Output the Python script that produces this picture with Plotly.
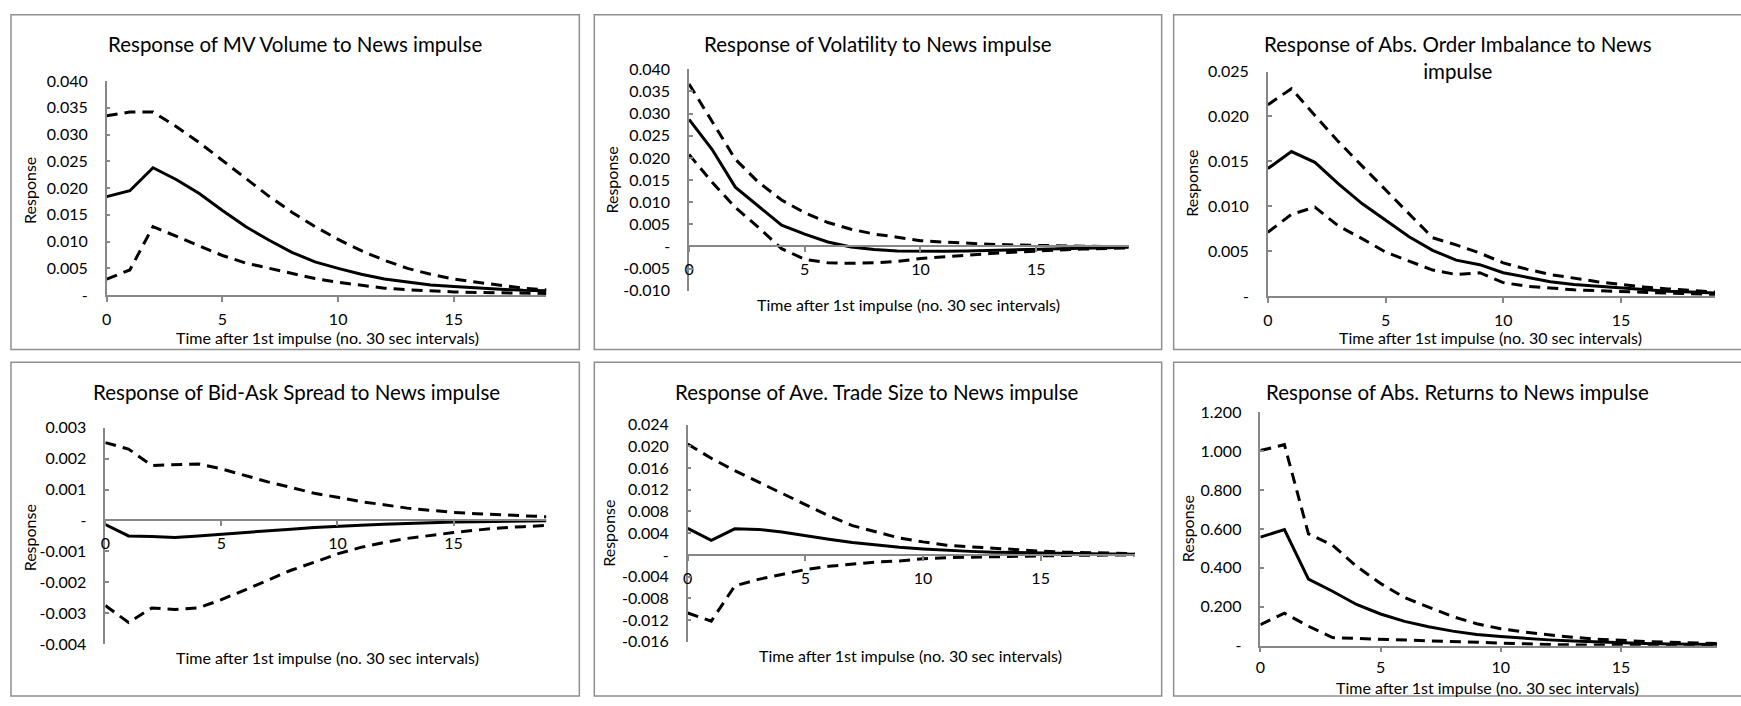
import plotly.graph_objects as go

# ---------------- data ----------------
periods = list(range(20))
x_tick_vals = [0, 5, 10, 15]
x_tick_text = ["0", "5", "10", "15"]

titles = [
    "Response of MV Volume to News impulse",
    "Response of Volatility to News impulse",
    "Response of Abs. Order Imbalance to News<br>impulse",
    "Response of Bid-Ask Spread to News impulse",
    "Response of Ave. Trade Size to News impulse",
    "Response of Abs. Returns to News impulse",
]
x_title = "Time after 1st impulse (no. 30 sec intervals)"
y_title = "Response"

# MV Volume
volume_mid = [0.0184, 0.0195, 0.0238, 0.0216, 0.0190, 0.0158, 0.0128, 0.0103, 0.0080, 0.0062,
              0.0050, 0.0039, 0.0030, 0.0024, 0.0019, 0.0016, 0.0013, 0.0011, 0.0009, 0.0008]
volume_up = [0.0335, 0.0342, 0.0342, 0.0315, 0.0285, 0.0252, 0.0219, 0.0185, 0.0155, 0.0128,
             0.0104, 0.0083, 0.0065, 0.0050, 0.0039, 0.0030, 0.0024, 0.0018, 0.0013, 0.0010]
volume_lo = [0.0030, 0.0047, 0.0128, 0.0110, 0.0092, 0.0074, 0.0060, 0.0050, 0.0040, 0.0031,
             0.0024, 0.0018, 0.0013, 0.0010, 0.00075, 0.0006, 0.0005, 0.0004, 0.00035, 0.0003]

# Volatility
volat_mid = [0.0287, 0.0219, 0.0134, 0.0090, 0.0048, 0.0028, 0.0010, -0.0001, -0.0007, -0.0010,
             -0.0011, -0.0011, -0.0010, -0.0009, -0.0008, -0.0006, -0.0005, -0.00035, -0.00025, -0.0002]
volat_up = [0.0367, 0.0281, 0.0197, 0.0145, 0.0105, 0.0076, 0.0054, 0.0039, 0.0028, 0.0021,
            0.0013, 0.0010, 0.0007, 0.0005, 0.00035, 0.0002, 0.0001, 0.00005, 0.0, 0.0]
volat_lo = [0.0208, 0.0145, 0.0088, 0.0043, -0.0005, -0.0029, -0.0037, -0.0038, -0.0037, -0.0034,
            -0.0027, -0.0023, -0.0020, -0.0016, -0.0013, -0.0010, -0.0008, -0.0006, -0.0004, -0.0003]

# Abs. Order Imbalance
oimb_mid = [0.0142, 0.0161, 0.0149, 0.0125, 0.0103, 0.0084, 0.0066, 0.0051, 0.0040, 0.0035,
            0.0026, 0.0021, 0.0016, 0.0013, 0.0011, 0.0009, 0.0007, 0.00055, 0.00045, 0.00035]
oimb_up = [0.0213, 0.0231, 0.0201, 0.0172, 0.0145, 0.0118, 0.0091, 0.0065, 0.0057, 0.0048,
           0.0037, 0.0030, 0.0024, 0.0020, 0.0016, 0.0013, 0.0010, 0.0008, 0.0006, 0.00045]
oimb_lo = [0.0071, 0.0091, 0.0099, 0.0078, 0.0064, 0.0049, 0.0039, 0.0029, 0.0024, 0.0026,
           0.0015, 0.0011, 0.0009, 0.0007, 0.0006, 0.0005, 0.0004, 0.0003, 0.00025, 0.0002]

# Bid-Ask Spread
spread_mid = [-0.00013, -0.00050, -0.00052, -0.00055, -0.00050, -0.00044, -0.00038, -0.00033, -0.00028, -0.00023,
              -0.00018, -0.00015, -0.00012, -0.00009, -0.00007, -0.00005, -0.00004, -0.00003, -0.00002, -0.00001]
spread_up = [0.00252, 0.00231, 0.00178, 0.00181, 0.00183, 0.00167, 0.00146, 0.00125, 0.00107, 0.00088,
             0.00075, 0.00061, 0.00051, 0.00040, 0.00033, 0.00026, 0.00022, 0.00018, 0.00015, 0.00012]
spread_lo = [-0.00275, -0.00330, -0.00283, -0.00288, -0.00283, -0.00256, -0.00225, -0.00193, -0.00161, -0.00135,
             -0.00108, -0.00087, -0.00071, -0.00058, -0.00048, -0.00039, -0.00031, -0.00024, -0.00020, -0.00016]

# Ave. Trade Size
tsize_mid = [0.0049, 0.0027, 0.0048, 0.0047, 0.0042, 0.0035, 0.0029, 0.0023, 0.0018, 0.0014,
             0.0011, 0.00085, 0.00065, 0.0005, 0.0004, 0.0003, 0.00025, 0.0002, 0.00015, 0.0001]
tsize_up = [0.0204, 0.0178, 0.0155, 0.0134, 0.0113, 0.0093, 0.0072, 0.0054, 0.0042, 0.0031,
            0.0024, 0.0018, 0.0015, 0.0012, 0.0009, 0.0007, 0.0005, 0.0004, 0.0003, 0.00025]
tsize_lo = [-0.0107, -0.0122, -0.0057, -0.0045, -0.0036, -0.0027, -0.0021, -0.0017, -0.0013, -0.0011,
            -0.0007, -0.0005, -0.0004, -0.0003, -0.0002, -0.00015, -0.0001, -0.00005, 0.0, 0.0]

# Abs. Returns
ret_mid = [0.558, 0.597, 0.342, 0.280, 0.212, 0.163, 0.125, 0.097, 0.075, 0.058,
           0.047, 0.037, 0.030, 0.024, 0.019, 0.015, 0.012, 0.009, 0.007, 0.006]
ret_up = [1.003, 1.033, 0.575, 0.517, 0.408, 0.320, 0.247, 0.197, 0.150, 0.113,
          0.087, 0.070, 0.055, 0.043, 0.034, 0.027, 0.022, 0.018, 0.014, 0.011]
ret_lo = [0.108, 0.167, 0.100, 0.042, 0.037, 0.033, 0.028, 0.025, 0.020, 0.016,
          0.012, 0.009, 0.006, 0.004, 0.003, 0.002, 0.001, 0.001, 0.001, 0.001]

# y-axis ticks
y1_vals = [0, 0.005, 0.010, 0.015, 0.020, 0.025, 0.030, 0.035, 0.040]
y1_text = ["-", "0.005", "0.010", "0.015", "0.020", "0.025", "0.030", "0.035", "0.040"]
y2_vals = [-0.010, -0.005, 0, 0.005, 0.010, 0.015, 0.020, 0.025, 0.030, 0.035, 0.040]
y2_text = ["-0.010", "-0.005", "-", "0.005", "0.010", "0.015", "0.020", "0.025", "0.030", "0.035", "0.040"]
y3_vals = [0, 0.005, 0.010, 0.015, 0.020, 0.025]
y3_text = ["-", "0.005", "0.010", "0.015", "0.020", "0.025"]
y4_vals = [-0.004, -0.003, -0.002, -0.001, 0, 0.001, 0.002, 0.003]
y4_text = ["-0.004", "-0.003", "-0.002", "-0.001", "-", "0.001", "0.002", "0.003"]
y5_vals = [-0.016, -0.012, -0.008, -0.004, 0, 0.004, 0.008, 0.012, 0.016, 0.020, 0.024]
y5_text = ["-0.016", "-0.012", "-0.008", "-0.004", "-", "0.004", "0.008", "0.012", "0.016", "0.020", "0.024"]
y6_vals = [0, 0.2, 0.4, 0.6, 0.8, 1.0, 1.2]
y6_text = ["-", "0.200", "0.400", "0.600", "0.800", "1.000", "1.200"]

series = [
    (volume_mid, volume_up, volume_lo),
    (volat_mid, volat_up, volat_lo),
    (oimb_mid, oimb_up, oimb_lo),
    (spread_mid, spread_up, spread_lo),
    (tsize_mid, tsize_up, tsize_lo),
    (ret_mid, ret_up, ret_lo),
]
y_ticks = [(y1_vals, y1_text), (y2_vals, y2_text), (y3_vals, y3_text),
           (y4_vals, y4_text), (y5_vals, y5_text), (y6_vals, y6_text)]
y_ranges = [(0, 0.040), (-0.010, 0.040), (0, 0.025), (-0.004, 0.003), (-0.016, 0.024), (0, 1.2)]

# ---------------- layout (pixel geometry) ----------------
W, H = 1741, 706
FONT = "Lato, 'Open Sans', sans-serif"
GRAY = "#878787"

# plot areas: x0, x1, ytop, ybottom (px)
plot_px = [
    (102, 543, 73, 293),
    (686, 1127, 61, 288.5),
    (1266.5, 1715, 63.3, 294),
    (100.6, 543, 429.3, 651.7),
    (684.7, 1133, 426, 649.3),
    (1259, 1717, 413.3, 653.3),
]
title_px = [(291, 35), (876, 35), (1457, 49), (292, 393), (875, 393), (1457, 393)]
xtitle_px = [(323, 337), (906, 303), (1490, 337), (323, 665), (908, 663), (1487, 696)]
ytitle_px = [(24, 185), (608, 175), (1190, 178), (24, 542), (605, 538), (1186, 533)]
x_label_standoff = [4, 4, 4, 4, 4, 1]
borders_px = [
    (6, 576, 5, 349), (591, 1160, 5, 349), (1172, 1746, 5, 349),
    (6, 576, 362, 705), (591, 1160, 362, 705), (1172, 1746, 362, 705),
]


def fx(p):
    return p / W


def fy(p):
    return 1 - p / H


fig = go.Figure()
layout = dict(
    width=W, height=H, margin=dict(l=0, r=0, t=0, b=0),
    paper_bgcolor="white", plot_bgcolor="white", showlegend=False,
    font=dict(family=FONT, color="black"),
)
annotations = []
shapes = []
TICK_SIZE = 16
TITLE_SIZE = 20.5

for k in range(6):
    n = "" if k == 0 else str(k + 1)
    xa, ya = "x" + n, "y" + n
    mid, up, lo = series[k]
    for vals, dash in ((up, "11px,7px"), (lo, "11px,7px"), (mid, "solid")):
        fig.add_trace(go.Scatter(
            x=periods, y=vals, mode="lines", xaxis=xa, yaxis=ya,
            line=dict(color="black", width=3, dash=dash), hoverinfo="skip",
        ))
    x0, x1, yt, yb = plot_px[k]
    ymin, ymax = y_ranges[k]
    ydom = [fy(yb), fy(yt)]
    xax = dict(
        domain=[fx(x0), fx(x1)], range=[0, 19], tickvals=x_tick_vals, ticktext=x_tick_text,
        showline=True, linecolor=GRAY, linewidth=1.5, ticks="outside", ticklen=5,
        tickcolor=GRAY, tickwidth=1.5, showgrid=False, zeroline=False,
        tickfont=dict(family=FONT, size=TICK_SIZE, color="black"),
        ticklabelstandoff=x_label_standoff[k],
    )
    if ymin < 0:
        frac = (0 - ymin) / (ymax - ymin)
        xax.update(anchor="free", position=ydom[0] + frac * (ydom[1] - ydom[0]))
    else:
        xax.update(anchor=ya)
    yax = dict(
        domain=ydom, range=[ymin, ymax], tickvals=y_ticks[k][0], ticktext=y_ticks[k][1],
        showline=True, linecolor=GRAY, linewidth=1.5, ticks="inside", ticklen=4,
        tickcolor=GRAY, tickwidth=1.5, showgrid=False, zeroline=False, anchor=xa,
        tickfont=dict(family=FONT, size=TICK_SIZE, color="black"), ticklabelstandoff=14,
    )
    layout["xaxis" + n] = xax
    layout["yaxis" + n] = yax

    tx, ty = title_px[k]
    annotations.append(dict(text=titles[k], x=fx(tx), y=fy(ty), xref="paper", yref="paper",
                            showarrow=False, xanchor="center", yanchor="middle",
                            font=dict(family=FONT, size=TITLE_SIZE, color="black")))
    ax_, ay_ = xtitle_px[k]
    annotations.append(dict(text=x_title, x=fx(ax_), y=fy(ay_), xref="paper", yref="paper",
                            showarrow=False, xanchor="center", yanchor="middle",
                            font=dict(family=FONT, size=TICK_SIZE, color="black")))
    bx, by = ytitle_px[k]
    annotations.append(dict(text=y_title, x=fx(bx), y=fy(by), xref="paper", yref="paper",
                            showarrow=False, xanchor="center", yanchor="middle", textangle=-90,
                            font=dict(family=FONT, size=TICK_SIZE, color="black")))
    l, r, t, b = borders_px[k]
    shapes.append(dict(type="rect", xref="paper", yref="paper",
                       x0=fx(l), x1=fx(r), y0=fy(b), y1=fy(t),
                       line=dict(color="#8f8f8f", width=1.5), fillcolor="rgba(0,0,0,0)"))

layout["annotations"] = annotations
layout["shapes"] = shapes
fig.update_layout(**layout)
fig.write_html(
    "out.html",
    config={"displayModeBar": False},
    post_script="document.body.style.margin='0';document.body.style.padding='0';"
                "document.documentElement.style.overflow='hidden';",
)
